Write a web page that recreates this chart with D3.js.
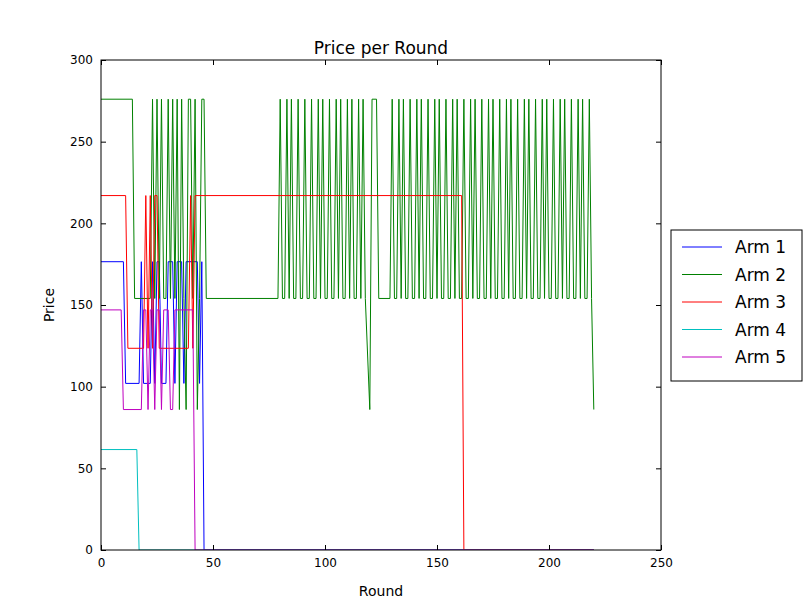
<!DOCTYPE html>
<html><head><meta charset="utf-8">
<script src="https://cdn.jsdelivr.net/npm/d3@7"></script>
<style>body{margin:0;background:#fff}svg{font-family:"DejaVu Sans",sans-serif}</style>
</head><body><svg id="c" width="812" height="612"></svg>
<script>
const seriesNames = ["Arm 1","Arm 2","Arm 3","Arm 4","Arm 5"];
const colors = ["#0000ff","#008000","#ff0000","#00bfbf","#bf00bf"];
const xTicks = [0,50,100,150,200,250];
const yTicks = [0,50,100,150,200,250,300];
const arm1 = [[0,176.5],[10,176.5],[11,102],[17,102],[18,176.5],[19,102],[22,102],[23,176.5],[24,102],[25,176.5],[26,176.5],[27,102],[29,102],[30,176.5],[32,176.5],[33,102],[34,176.5],[36,176.5],[37,102],[38,176.5],[43,176.5],[44,102],[45,176.5],[46,0],[220,0]];
const arm2Early = [[0,276],[14,276],[15,154],[22,154],[23,276],[24,154],[25,276],[26,154],[27,276],[28,154],[29,154],[30,276],[31,154],[32,276],[33,154],[34,276],[35,86],[36,276],[37,154],[38,86],[39,276],[40,276],[41,154],[42,276],[43,86],[44,154],[45,276],[46,276],[47,154],[79,154]];
const arm2PeaksA = [80,83,85,88,91,94,97,99,102,105,107,110,112,115,117];
const arm2Mid = [[118,154],[120,86],[121,276],[123,276],[124,154],[129,154]];
const arm2PeaksB = [130,133,135,138,141,143,146,149,151,154,157,159,162,165,167,170,173,175,178,181,183,186,189,191,194,197,199,202,205,207,210,213,215,218];
const arm2End = [[220,86]];
const arm3 = [[0,217],[11,217],[12,123.5],[19,123.5],[20,217],[21,123.5],[22,217],[23,123.5],[24,217],[25,217],[26,123.5],[39,123.5],[40,217],[41,123.5],[42,217],[161,217],[162,0],[220,0]];
const arm4 = [[0,61.5],[16,61.5],[17,0],[220,0]];
const arm5 = [[0,147],[9,147],[10,86],[18,86],[19,147],[20,147],[21,86],[22,147],[23,147],[24,86],[25,147],[26,147],[27,86],[28,147],[30,147],[31,86],[32,86],[33,147],[41,147],[42,0],[220,0]];

function peaksToPts(peaks){const o=[];peaks.forEach(p=>{o.push([p-1,154],[p,276],[p+1,154]);});return o;}
const arm2 = [...arm2Early, ...peaksToPts(arm2PeaksA), ...arm2Mid, ...peaksToPts(arm2PeaksB), ...arm2End];
const data = [arm1, arm2, arm3, arm4, arm5];

const svg = d3.select("#c");
const L=101,R=661,T=60,B=550;
const x = d3.scaleLinear().domain([0,250]).range([L,R]);
const y = d3.scaleLinear().domain([0,300]).range([B,T]);
svg.append("defs").append("clipPath").attr("id","cp").append("rect").attr("x",L).attr("y",T).attr("width",R-L).attr("height",B-T);
const line = d3.line().x(d=>x(d[0])).y(d=>y(d[1]));
const g = svg.append("g").attr("clip-path","url(#cp)");
data.forEach((d,i)=>g.append("path").attr("d",line(d)).attr("fill","none").attr("stroke",colors[i]).attr("stroke-width",1));

const ax = (sel)=>sel.selectAll("path").remove();
svg.append("g").attr("transform",`translate(0,${B})`).call(d3.axisBottom(x).tickValues(xTicks).tickSize(-5).tickPadding(8)).call(ax).selectAll("text").attr("font-size",12).attr("fill","#000").attr("font-family","DejaVu Sans");
svg.append("g").attr("transform",`translate(0,${T})`).call(d3.axisTop(x).tickValues(xTicks).tickSize(-5).tickFormat("")).call(ax);
svg.append("g").attr("transform",`translate(${L},0)`).call(d3.axisLeft(y).tickValues(yTicks).tickSize(-5).tickPadding(8)).call(ax).selectAll("text").attr("font-size",12).attr("fill","#000").attr("font-family","DejaVu Sans");
svg.append("g").attr("transform",`translate(${R},0)`).call(d3.axisRight(y).tickValues(yTicks).tickSize(-5).tickFormat("")).call(ax);
svg.selectAll(".tick line").attr("stroke","#000");
svg.append("rect").attr("x",L).attr("y",T).attr("width",R-L).attr("height",B-T).attr("fill","none").attr("stroke","#000");
svg.append("text").attr("x",(L+R)/2).attr("y",54).attr("text-anchor","middle").attr("font-size",17).text("Price per Round");
svg.append("text").attr("x",(L+R)/2).attr("y",596).attr("text-anchor","middle").attr("font-size",14).text("Round");
svg.append("text").attr("transform",`translate(54,${(T+B)/2}) rotate(-90)`).attr("text-anchor","middle").attr("font-size",14).text("Price");

const lg = svg.append("g");
lg.append("rect").attr("x",671).attr("y",230).attr("width",131).attr("height",151).attr("fill","#fff").attr("stroke","#000");
seriesNames.forEach((n,i)=>{
  const yy=247+i*27.5;
  lg.append("line").attr("x1",682).attr("x2",722).attr("y1",yy).attr("y2",yy).attr("stroke",colors[i]);
  lg.append("text").attr("x",735).attr("y",yy+6).attr("font-size",17).text(n);
});
</script></body></html>
